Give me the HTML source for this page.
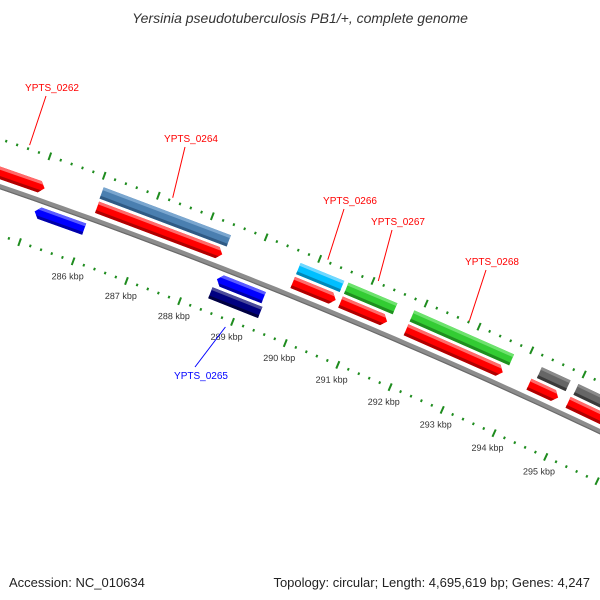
<!DOCTYPE html>
<html><head><meta charset="utf-8"><style>
html,body{margin:0;padding:0;background:#fff;}
svg{display:block;font-family:"Liberation Sans","DejaVu Sans",sans-serif;}
</style></head><body>
<svg id="map" width="600" height="600" viewBox="0 0 600 600">
<text x="300" y="23" text-anchor="middle" font-size="14" font-style="italic" fill="#333">Yersinia pseudotuberculosis PB1/+, complete genome</text>
<g transform="rotate(-0.3 0 185)">
<g id="ticks"></g>
<g id="backbone"></g>
<g id="features"></g>
</g>
<g id="labels"></g>
<text x="9" y="587" font-size="13" fill="#222">Accession: NC_010634</text>
<text x="590" y="587" text-anchor="end" font-size="13" fill="#222">Topology: circular; Length: 4,695,619 bp; Genes: 4,247</text>
</svg>
<script>
// ---- data (positions in kbp) ----
const featStart = [284.1, 285.07, 286.06, 286.07, 288.47, 288.45, 289.72, 289.72, 290.62, 290.62, 291.86, 291.86, 294.28, 294.2, 294.98, 294.95];
const featEnd   = [285.10, 285.99, 288.42, 288.40, 289.35, 289.39, 290.54, 290.53, 291.54, 291.50, 293.75, 293.70, 294.83, 294.76, 296.5, 296.5];
const featStrand = [1, -1, 0, 1, -1, 0, 0, 1, 0, 1, 0, 1, 0, 1, 0, 1];
const featRow   = [13, -12, 28, 13, -12, -27, 28, 13, 28, 13, 28, 13, 28, 13, 28, 13];
const featType  = ['cds','cds','gene','cds','cds','gene','gene','cds','gene','cds','gene','cds','gene','cds','gene','cds'];
const featColor = ['red','blue','steel','red','blue','navy','cyan','red','green','red','green','red','gray','red','gray','red'];
const kbpLabels = [286, 287, 288, 289, 290, 291, 292, 293, 294, 295];
const geneNames = ['YPTS_0262','YPTS_0264','YPTS_0265','YPTS_0266','YPTS_0267','YPTS_0268'];
const geneCenters = [284.6, 287.24, 288.92, 290.13, 291.08, 292.8];
const geneSide = [1, 1, -1, 1, 1, 1];
const labelXY = [[52,91],[191,142],[201,379],[350,204],[398,225],[492,265]];

const palette = {
  red:['#ff6a6a','#ff0000','#b00000'], blue:['#5a5aff','#0000ff','#0000a8'],
  steel:['#7aa6cf','#4a7fb0','#2f5a84'], navy:['#4a4a9a','#000080','#000040'],
  cyan:['#70d8ff','#00bfff','#0088b8'], green:['#6de26d','#33cc33','#1f8f1f'],
  gray:['#8a8a8a','#666666','#3a3a3a']
};

const NS = 'http://www.w3.org/2000/svg';
const CX = -1945, CY = 5725, R = 5870;
function pt(kbp, d){
  const u = 94.5 + 57.3*(kbp-286);
  const a = 0.3930 + (u-324.7)/R;
  const r = R + d;
  return [CX + r*Math.sin(a), CY - r*Math.cos(a)];
}
function P(list){ return list.map(p=>p[0].toFixed(1)+','+p[1].toFixed(1)).join(' '); }
function mk(tag, attrs, parent){ const e=document.createElementNS(NS,tag); for(const k in attrs) e.setAttribute(k,attrs[k]); parent.appendChild(e); return e; }

// ticks
const tg = document.getElementById('ticks');
for (let i=0;i<=70;i++){
  const k = 283.6 + i*0.2;
  const major = Math.abs(k-Math.round(k))<1e-6;
  [45,-46].forEach((d)=>{
    const a = major ? pt(k,d-4) : pt(k,d-1.3);
    const b = major ? pt(k,d+4) : pt(k,d+1.3);
    const l = mk('line',{x1:a[0],y1:a[1],x2:b[0],y2:b[1],stroke:'#1e8c1e','stroke-width':2},tg);
    
    
  });
}
kbpLabels.forEach(k=>{
  const p = pt(k,-62);
  const t = mk('text',{x:p[0].toFixed(1),y:(p[1]+3).toFixed(1),'text-anchor':'middle','font-size':9,fill:'#333'},tg);
  t.textContent = k+' kbp';
  
  
});

// backbone
const bg = document.getElementById('backbone');
const bpts=[]; for(let k=283;k<=298;k+=0.25) bpts.push(pt(k,0));
const bb = mk('polyline',{points:P(bpts),fill:'none',stroke:'#8c8c8c','stroke-width':5},bg);


const bpts2=[]; for(let k=283;k<=298;k+=0.25) bpts2.push(pt(k,-2));
const bb2 = mk('polyline',{points:P(bpts2),fill:'none',stroke:'#6a6a6a','stroke-width':1.2},bg);



// features
const fg = document.getElementById('features');
const h = 6, al = 0.09;
featStart.forEach((s,i)=>{
  const e = featEnd[i], d = featRow[i], c = palette[featColor[i]], st = featStrand[i];
  let main, hi, lo;
  if (featType[i]==='cds' && st===1){
    main=[pt(s,d+h),pt(e-al,d+h),pt(e,d),pt(e-al,d-h),pt(s,d-h)];
    hi=[pt(s,d+h),pt(e-al,d+h),pt(e-al/2,d+h-3),pt(s,d+h-3)];
    lo=[pt(s,d-h+3),pt(e-al/2,d-h+3),pt(e-al,d-h),pt(s,d-h)];
  } else if (featType[i]==='cds' && st===-1){
    main=[pt(s,d),pt(s+al,d+h),pt(e,d+h),pt(e,d-h),pt(s+al,d-h)];
    hi=[pt(s+al,d+h),pt(e,d+h),pt(e,d+h-3),pt(s+al/2,d+h-3)];
    lo=[pt(s+al/2,d-h+3),pt(e,d-h+3),pt(e,d-h),pt(s+al,d-h)];
  } else {
    main=[pt(s,d+h),pt(e,d+h),pt(e,d-h),pt(s,d-h)];
    hi=[pt(s,d+h),pt(e,d+h),pt(e,d+h-3),pt(s,d+h-3)];
    lo=[pt(s,d-h+3),pt(e,d-h+3),pt(e,d-h),pt(s,d-h)];
  }
  const g = mk('g',{},fg);
  
  
  mk('polygon',{points:P(main),fill:c[1]},g);
  mk('polygon',{points:P(hi),fill:c[0]},g);
  mk('polygon',{points:P(lo),fill:c[2]},g);
});

// gene labels
const lg = document.getElementById('labels');
geneNames.forEach((n,i)=>{
  const side = geneSide[i];
  const col = side>0 ? '#ff0000' : '#0000ff';
  const [lx,ly] = labelXY[i];
  const end = pt(geneCenters[i], side>0 ? 49 : -52);
  const sy = side>0 ? ly+5 : ly-12;
  const ln = mk('line',{x1:lx-6,y1:sy,x2:end[0].toFixed(1),y2:end[1].toFixed(1),stroke:col,'stroke-width':1},lg);
  
  
  const t = mk('text',{x:lx,y:ly,'text-anchor':'middle','font-size':10,fill:col},lg);
  t.textContent = n;
  
  
});
</script>
</body></html>
